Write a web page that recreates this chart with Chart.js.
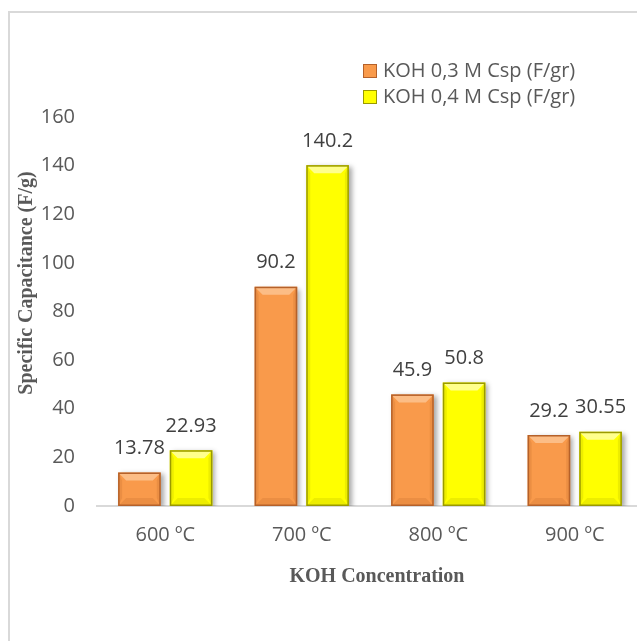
<!DOCTYPE html>
<html>
<head>
<meta charset="utf-8">
<script src="https://cdn.jsdelivr.net/npm/chart.js@4"></script>
<style>
  html, body { margin: 0; padding: 0; width: 637px; height: 641px; overflow: hidden; background: #fff; }
  #frame { position: absolute; left: 8px; top: 11px; width: 700px; height: 700px; border-left: 2px solid #d9d9d9; border-top: 2px solid #d9d9d9; }
  #chart { position: absolute; left: 0; top: 0; }
  #legend { position: absolute; left: 363px; top: 57px; font-family: "Open Sans", sans-serif; font-size: 20px; color: #595959; }
  .item { height: 26px; line-height: 26px; white-space: nowrap; }
  .box { display: inline-block; width: 12px; height: 12px; margin-right: 6px; vertical-align: -1px; border: 1px solid; }
</style>
</head>
<body>
<div id="frame"></div>
<canvas id="chart" width="660" height="641"></canvas>
<div id="legend"></div>
<script>
// values
const categories = ['600 ºC', '700 ºC', '800 ºC', '900 ºC'];
const koh03 = [13.78, 90.2, 45.9, 29.2];
const koh04 = [22.93, 140.2, 50.8, 30.55];
const seriesLabels = ['KOH 0,3 M Csp (F/gr)', 'KOH 0,4 M Csp (F/gr)'];
const valueLabels = [['13.78', '90.2', '45.9', '29.2'], ['22.93', '140.2', '50.8', '30.55']];
const yTicks = [0, 20, 40, 60, 80, 100, 120, 140, 160];

const palette = [
  { fill: '#f99a4b', edge: '#b5612a', light: '#fcbd86', dark: '#d9803a' },
  { fill: '#ffff00', edge: '#9a9a00', light: '#ffff8c', dark: '#d8d800' }
];

// bevel + shadow look of the original office-style bars
const bevelBars = {
  id: 'bevelBars',
  beforeDatasetsDraw(chart) {
    const ctx = chart.ctx;
    ctx.save();
    ctx.shadowColor = 'rgba(0,0,0,0.35)';
    ctx.shadowBlur = 5;
    ctx.shadowOffsetX = 3;
    ctx.shadowOffsetY = 2;
  },
  afterDatasetsDraw(chart) {
    const ctx = chart.ctx;
    ctx.restore();
    chart.data.datasets.forEach((ds, i) => {
      const c = palette[i];
      chart.getDatasetMeta(i).data.forEach((bar, j) => {
        const w = bar.width, l = bar.x - w / 2, r = bar.x + w / 2, t = bar.y, b = bar.base;
        const bv = 8;
        ctx.save();
        // top bevel
        ctx.fillStyle = c.light;
        ctx.beginPath();
        ctx.moveTo(l + 1, t + 1); ctx.lineTo(r - 1, t + 1); ctx.lineTo(r - bv, t + bv); ctx.lineTo(l + bv, t + bv); ctx.closePath();
        ctx.fill();
        // side bevels
        ctx.fillStyle = c.dark;
        ctx.globalAlpha = 0.45;
        ctx.beginPath();
        ctx.moveTo(l + 1, t + 1); ctx.lineTo(l + 4, t + bv); ctx.lineTo(l + 4, b - bv); ctx.lineTo(l + 1, b - 1); ctx.closePath();
        ctx.fill();
        ctx.beginPath();
        ctx.moveTo(r - 1, t + 1); ctx.lineTo(r - 4, t + bv); ctx.lineTo(r - 4, b - bv); ctx.lineTo(r - 1, b - 1); ctx.closePath();
        ctx.fill();
        ctx.beginPath();
        ctx.moveTo(l + 1, b - 1); ctx.lineTo(r - 1, b - 1); ctx.lineTo(r - bv, b - bv); ctx.lineTo(l + bv, b - bv); ctx.closePath();
        ctx.fill();
        ctx.globalAlpha = 1;
        ctx.strokeStyle = c.edge;
        ctx.lineWidth = 1.5;
        ctx.strokeRect(l + 0.75, t + 0.75, w - 1.5, b - t - 1.5);
        // value label
        ctx.fillStyle = '#404040';
        ctx.font = '20px "Open Sans", sans-serif';
        ctx.textAlign = 'center';
        ctx.textBaseline = 'middle';
        ctx.fillText(valueLabels[i][j], bar.x, t - 24);
        ctx.restore();
      });
    });
  }
};

// axis titles drawn at their places in the reference
const axisTitles = {
  id: 'axisTitles',
  afterDraw(chart) {
    const ctx = chart.ctx;
    ctx.save();
    ctx.fillStyle = '#595959';
    ctx.font = 'bold 20px "Liberation Serif", serif';
    ctx.textAlign = 'center';
    ctx.textBaseline = 'middle';
    ctx.fillText('KOH Concentration', 377, 577);
    ctx.translate(27, 283);
    ctx.rotate(-Math.PI / 2);
    ctx.fillText('Specific Capacitance (F/g)', 0, 0);
    ctx.restore();
  }
};

new Chart(document.getElementById('chart'), {
  type: 'bar',
  data: {
    labels: categories,
    datasets: [
      { label: seriesLabels[0], data: koh03, backgroundColor: palette[0].fill, borderWidth: 0 },
      { label: seriesLabels[1], data: koh04, backgroundColor: palette[1].fill, borderWidth: 0 }
    ]
  },
  options: {
    responsive: false,
    animation: false,
    devicePixelRatio: 1,
    categoryPercentage: 0.757,
    barPercentage: 0.825,
    layout: { padding: { top: 117, right: 17, left: 0, bottom: 0 } },
    plugins: { legend: { display: false }, tooltip: { enabled: false } },
    scales: {
      x: {
        grid: { display: false, drawTicks: false },
        border: { display: true, color: '#d9d9d9', width: 2 },
        ticks: { color: '#595959', font: { family: 'Open Sans', size: 20 }, padding: 17, maxRotation: 0 },
        afterFit: (s) => { s.height = 135; }
      },
      y: {
        min: 0, max: 160,
        afterBuildTicks: (s) => { s.ticks = yTicks.map(v => ({ value: v })); },
        grid: { display: false, drawTicks: false },
        border: { display: false },
        ticks: { color: '#595959', font: { family: 'Open Sans', size: 20 }, padding: 22 },
        afterFit: (s) => { s.width = 97; }
      }
    }
  },
  plugins: [bevelBars, axisTitles]
});

// legend as html, built from the series labels
const legend = document.getElementById('legend');
seriesLabels.forEach((label, i) => {
  const row = document.createElement('div');
  row.className = 'item';
  row.innerHTML = '<span class="box" style="background:' + palette[i].fill + ';border-color:' + palette[i].edge + '"></span>' + label;
  legend.appendChild(row);
});
</script>
</body>
</html>
